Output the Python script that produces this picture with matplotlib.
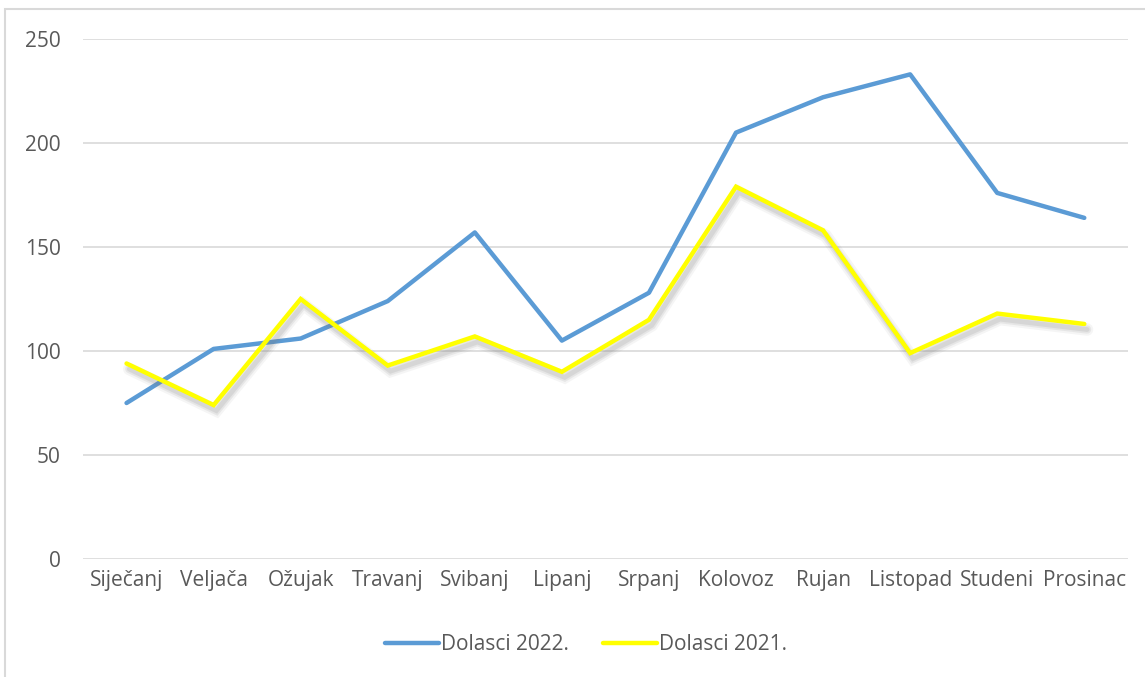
import matplotlib.pyplot as plt
import matplotlib.patheffects as pe
from matplotlib.patches import Rectangle
from matplotlib.lines import Line2D

plt.rcParams['font.family'] = ['Open Sans', 'DejaVu Sans']

# Monthly arrivals
months = ['Siječanj', 'Veljača', 'Ožujak', 'Travanj', 'Svibanj', 'Lipanj',
          'Srpanj', 'Kolovoz', 'Rujan', 'Listopad', 'Studeni', 'Prosinac']
dolasci_2022 = [75, 101, 106, 124, 157, 105, 128, 205, 222, 233, 176, 164]
dolasci_2021 = [94, 74, 125, 93, 107, 90, 115, 179, 158, 99, 118, 113]
yticks = [0, 50, 100, 150, 200, 250]

text_col = '#595959'
blue = '#5b9bd5'
yellow = '#ffff00'

fig = plt.figure(figsize=(11.45, 6.77), dpi=100)
ax = fig.add_axes([0.0725, 0.1743, 0.9125, 0.7681])

# light frame around the chart (right/bottom cut off in the original)
fig.patches.append(Rectangle((5 / 1145, -0.1), 1.2, 1 - 9 / 677 + 0.1,
                             transform=fig.transFigure, fill=False,
                             edgecolor='#d9d9d9', linewidth=1.5))

x = range(len(months))
ax.plot(x, dolasci_2022, color=blue, linewidth=3.2,
        solid_joinstyle='round', solid_capstyle='round', zorder=3)
ax.plot(x, dolasci_2021, color=yellow, linewidth=3.2,
        solid_joinstyle='miter', solid_capstyle='round', zorder=3,
        path_effects=[pe.SimpleLineShadow(offset=(2, -4), shadow_color='gray', alpha=0.08, linewidth=9),
                      pe.SimpleLineShadow(offset=(2, -4), shadow_color='gray', alpha=0.12, linewidth=6),
                      pe.SimpleLineShadow(offset=(2, -4), shadow_color='gray', alpha=0.15, linewidth=3.5),
                      pe.Normal()])

ax.set_xlim(-0.5, len(months) - 0.5)
ax.set_ylim(0, 250)
ax.set_yticks(yticks)
ax.set_xticks(list(x))
ax.set_xticklabels(months)
ax.grid(axis='y', color='#d9d9d9', linewidth=1.2)
ax.set_axisbelow(True)
for s in ax.spines.values():
    s.set_visible(False)
ax.tick_params(axis='both', length=0, colors=text_col, labelsize=15)
ax.tick_params(axis='x', pad=8)
ax.tick_params(axis='y', pad=16)

handles = [Line2D([], [], color=blue, linewidth=3.2, solid_capstyle='round'),
           Line2D([], [], color=yellow, linewidth=3.2, solid_capstyle='round')]
leg = fig.legend(handles, ['Dolasci 2022.', 'Dolasci 2021.'], loc='center',
                 bbox_to_anchor=(586 / 1145, 1 - 645 / 677), ncol=2, frameon=False,
                 fontsize=15, handlelength=2.6, handletextpad=0.1, columnspacing=1.6)
for t in leg.get_texts():
    t.set_color(text_col)

fig.savefig('out.png', dpi=100)
